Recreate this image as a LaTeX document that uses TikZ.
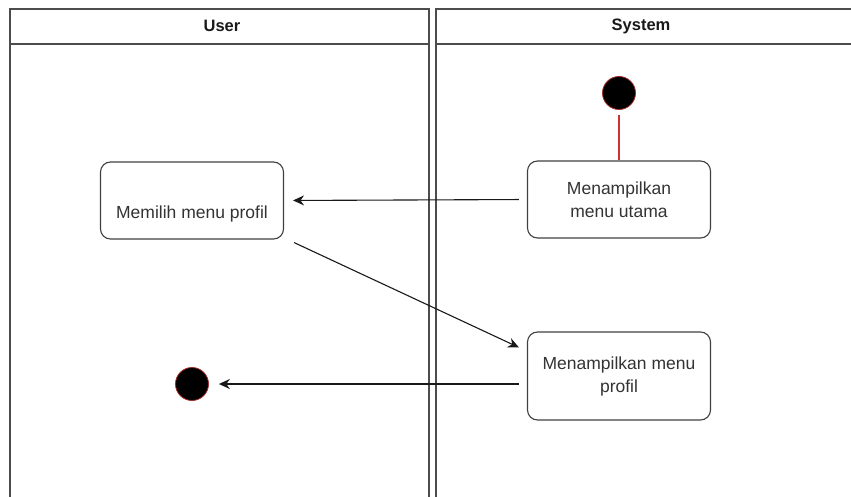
\documentclass[tikz,border=0pt]{standalone}
\usepackage{fontspec}
\setmainfont{Liberation Sans}
\usepackage{tikz}
\usetikzlibrary{positioning, arrows.meta, calc}
\definecolor{startred}{RGB}{205,50,50}
\tikzset{style={font=\fontsize{17.5}{23}\selectfont}}

\begin{document}
\begin{tikzpicture}[x=1pt,y=-1pt,>={Stealth[length=11pt,width=10pt]},
                lane/.style={draw=black!70,line width=1.6pt},
                act/.style={draw=black!75,line width=1.1pt,rounded corners=10pt,minimum width=183pt,
                minimum height=77pt,inner sep=0pt,align=center,text=black!80},
                dot/.style={circle,fill=black,draw=startred!80!black,line width=0.8pt,minimum size=33pt,inner sep=0pt},
                flow/.style={->,black!90,line width=1.1pt},
                head/.style={font=\fontsize{16.5}{19}\selectfont\bfseries,text=black!90}]
                \clip (0,0) rectangle (851,497);
                % swimlanes
                \draw[lane] (10,520) -- (10,9) -- (429,9) -- (429,520);
                \draw[lane] (10,44) -- (429,44);
                \draw[lane] (436,520) -- (436,9) -- (870,9);
                \draw[lane] (436,44) -- (870,44);
                \node[head] (user) at (222,26) {User};
                \node[head] (system) at (641,26) {System};
                % activities
                \node[dot] (start) at (619,93) {};
                \node[act] (utama) at (619,199.5) {Menampilkan\\menu utama};
                \node[act] (pilih) at (192,200.5) {\strut\\Memilih menu profil};
                \node[act,minimum height=88pt] (tampil) at (619,376) {Menampilkan menu\\profil};
                \node[dot] (end) at (192,384) {};
                % flows
                \draw[startred,line width=1.2pt,shorten <=5pt] (start) -- (utama);
                \draw[flow,shorten <=8pt,shorten >=9pt] (utama.west) -- (pilih.east);
                \draw[flow] ($(pilih.south east)+(10,3)$) -- ($(tampil.north west)+(-8,16)$);
                \draw[flow,shorten <=8pt,shorten >=10pt] (tampil.west |- end) -- (end);
            \end{tikzpicture}
\end{document}
